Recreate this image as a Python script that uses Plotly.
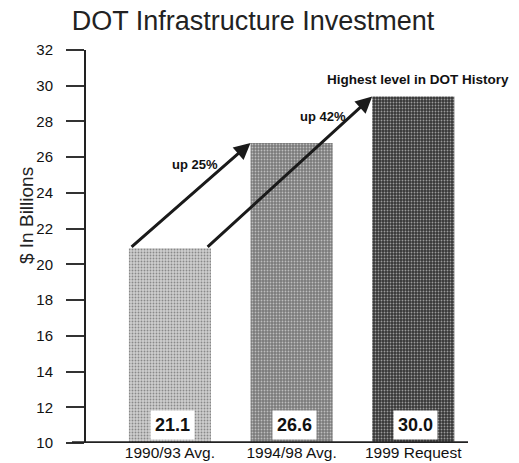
import plotly.graph_objects as go

categories = ["1990/93 Avg.", "1994/98 Avg.", "1999 Request"]
bar_heights = [20.9, 26.8, 29.4]
value_labels = ["21.1", "26.6", "30.0"]
bar_colors = ["#cecece", "#7a7a7a", "#363636"]
pattern_colors = ["#b6b6b6", "#909090", "#484848"]
y_ticks = [10, 12, 14, 16, 18, 20, 22, 24, 26, 28, 30, 32]

FONT = "Liberation Sans, Arial, sans-serif"
xs = list(range(len(categories)))
half = 0.3375

fig = go.Figure()
fig.add_trace(go.Bar(
    x=xs, y=[h - 10 for h in bar_heights], base=10,
    width=2 * half,
    marker=dict(color=bar_colors, line=dict(width=0),
                pattern=dict(shape=".", fgcolor=pattern_colors, size=3, solidity=0.3)),
    hoverinfo="skip",
))

annotations = []
for i, t in enumerate(value_labels):
    annotations.append(dict(x=xs[i] + 0.02, y=10, xref="x", yref="y", text="<b>%s</b>" % t,
                            showarrow=False, yanchor="bottom", yshift=3,
                            bgcolor="white", borderpad=4,
                            font=dict(family=FONT, size=18, color="#111")))
annotations.append(dict(x=xs[1] - half, y=bar_heights[1], ax=xs[0] - half + 0.01, ay=bar_heights[0],
                        xref="x", yref="y", axref="x", ayref="y", text="", showarrow=True,
                        arrowhead=2, arrowsize=1.1, arrowwidth=3, arrowcolor="#1a1a1a"))
annotations.append(dict(x=xs[2] - half, y=bar_heights[2], ax=xs[0] + half - 0.04, ay=bar_heights[0],
                        xref="x", yref="y", axref="x", ayref="y", text="", showarrow=True,
                        arrowhead=2, arrowsize=1.1, arrowwidth=3, arrowcolor="#1a1a1a"))
annotations.append(dict(x=0.205, y=25.6, xref="x", yref="y", text="<b>up 25%</b>", showarrow=False,
                        font=dict(family=FONT, size=13, color="#111")))
annotations.append(dict(x=1.26, y=28.3, xref="x", yref="y", text="<b>up 42%</b>", showarrow=False,
                        font=dict(family=FONT, size=13, color="#111")))
annotations.append(dict(x=2.04, y=30.35, xref="x", yref="y", text="<b>Highest level in DOT History</b>",
                        showarrow=False, font=dict(family=FONT, size=13.5, color="#111")))
annotations.append(dict(x=-0.154, y=0.578, xref="paper", yref="paper", text="$ In Billions", textangle=-90,
                        xanchor="center", yanchor="middle",
                        showarrow=False, font=dict(family=FONT, size=19, color="#222")))

fig.update_layout(
    width=519, height=463,
    margin=dict(l=86, r=51, t=50, b=20),
    paper_bgcolor="white", plot_bgcolor="white",
    showlegend=False,
    title=dict(text="DOT Infrastructure Investment", x=253 / 519, xanchor="center", y=1 - 21 / 463,
               yanchor="middle", font=dict(family=FONT, size=27, color="#222")),
    xaxis=dict(range=[-0.69, 2.45], tickvals=xs, ticktext=categories, showgrid=False, zeroline=False,
               showline=False, ticks="", tickfont=dict(family=FONT, size=15.5, color="#111"),
               ticklabelstandoff=-2, automargin=False, fixedrange=True),
    yaxis=dict(range=[10, 32], tickvals=y_ticks, showgrid=False, zeroline=False,
               showline=True, linecolor="#222", linewidth=2, ticks="outside", ticklen=18,
               tickwidth=1.5, tickcolor="#333", ticklabelstandoff=10,
               tickfont=dict(family=FONT, size=15, color="#111"), automargin=False, fixedrange=True),
    annotations=annotations,
    shapes=[dict(type="line", xref="paper", yref="y", x0=-14 / 382, x1=1.0, y0=10, y1=10,
                 line=dict(color="#222", width=3.5))],
)

fig.write_html("out.html", config={"displayModeBar": False},
               post_script="document.body.style.margin='0px';document.body.style.overflow='hidden';")
